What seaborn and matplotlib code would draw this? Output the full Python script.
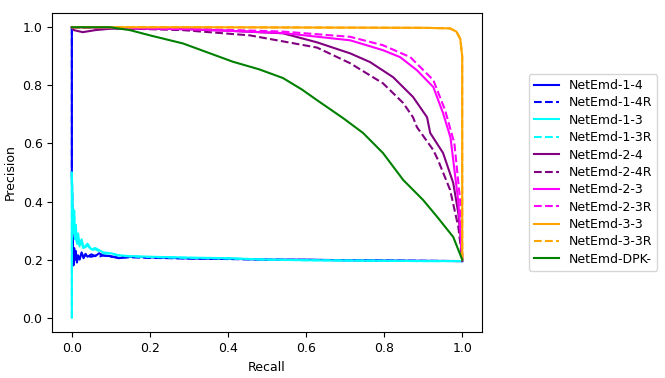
import pandas as pd
import matplotlib
matplotlib.use('Agg')
import matplotlib.pyplot as plt
import seaborn as sns

# NetEmd-1-4 / 1-4R (blue)
recall_14 = [0, 0, 0.002, 0.004, 0.006, 0.008, 0.01, 0.013, 0.016, 0.02, 0.025, 0.03, 0.035,
             0.04, 0.05, 0.06, 0.07, 0.08, 0.1, 0.12, 0.15, 0.2, 0.3, 0.4, 0.5, 0.6, 0.7, 0.8, 0.9, 1.0]
prec_14 = [1.0, 0.5, 0.28, 0.18, 0.24, 0.2, 0.23, 0.19, 0.215, 0.2, 0.225, 0.205, 0.22,
           0.21, 0.218, 0.212, 0.222, 0.214, 0.212, 0.205, 0.21, 0.208, 0.204, 0.203, 0.2, 0.2, 0.198, 0.197, 0.196, 0.195]
prec_14r = [1.0, 0.5, 0.27, 0.19, 0.23, 0.2, 0.22, 0.2, 0.21, 0.205, 0.22, 0.21, 0.215,
            0.212, 0.21, 0.214, 0.21, 0.215, 0.21, 0.207, 0.208, 0.206, 0.204, 0.202, 0.2, 0.199, 0.198, 0.197, 0.196, 0.195]

# NetEmd-1-3 / 1-3R (cyan)
recall_13 = [0, 0, 0.002, 0.004, 0.006, 0.008, 0.01, 0.013, 0.016, 0.02, 0.025, 0.03, 0.04,
             0.05, 0.06, 0.08, 0.1, 0.12, 0.15, 0.2, 0.3, 0.4, 0.5, 0.6, 0.7, 0.8, 0.9, 1.0]
prec_13 = [0.0, 0.5, 0.36, 0.3, 0.37, 0.27, 0.32, 0.26, 0.29, 0.25, 0.27, 0.24, 0.255,
           0.235, 0.24, 0.225, 0.222, 0.215, 0.212, 0.21, 0.207, 0.205, 0.2, 0.198, 0.197, 0.196, 0.195, 0.195]
prec_13r = [0.0, 0.5, 0.34, 0.29, 0.35, 0.28, 0.3, 0.25, 0.28, 0.245, 0.26, 0.235, 0.25,
            0.232, 0.236, 0.222, 0.22, 0.214, 0.211, 0.209, 0.206, 0.204, 0.2, 0.198, 0.197, 0.196, 0.195, 0.195]

# NetEmd-2-4 (purple solid)
recall_24 = [0, 0.005, 0.028, 0.06, 0.1, 0.2, 0.3, 0.4, 0.541, 0.628, 0.713, 0.764, 0.823,
             0.874, 0.91, 0.918, 0.951, 0.977, 0.99, 1.0, 1.0]
prec_24 = [1.0, 0.99, 0.983, 0.99, 0.995, 0.995, 0.993, 0.988, 0.979, 0.948, 0.91, 0.88, 0.828,
           0.76, 0.69, 0.636, 0.567, 0.464, 0.36, 0.22, 0.195]

# NetEmd-2-4R (purple dashed)
recall_24r = [0, 0.05, 0.15, 0.285, 0.456, 0.628, 0.713, 0.797, 0.849, 0.874, 0.884, 0.926,
              0.938, 0.969, 0.99, 1.0]
prec_24r = [1.0, 0.998, 0.995, 0.99, 0.972, 0.93, 0.876, 0.807, 0.739, 0.69, 0.656, 0.577,
            0.543, 0.44, 0.313, 0.2]

# NetEmd-2-3 (magenta solid)
recall_23 = [0, 0.1, 0.3, 0.541, 0.713, 0.797, 0.841, 0.884, 0.926, 0.951, 0.97, 0.99, 1.0]
prec_23 = [1.0, 0.998, 0.993, 0.98, 0.955, 0.921, 0.897, 0.852, 0.794, 0.704, 0.62, 0.4, 0.2]

# NetEmd-2-3R (magenta dashed)
recall_23r = [0, 0.1, 0.3, 0.541, 0.713, 0.797, 0.867, 0.926, 0.956, 0.98, 0.995, 1.0]
prec_23r = [1.0, 0.998, 0.995, 0.985, 0.967, 0.938, 0.897, 0.818, 0.715, 0.6, 0.4, 0.2]

# NetEmd-3-3 / 3-3R (orange)
recall_33 = [0, 0.3, 0.6, 0.9, 0.969, 0.985, 0.995, 1.0, 1.0]
prec_33 = [1.0, 1.0, 0.999, 0.998, 0.996, 0.985, 0.96, 0.9, 0.2]

# NetEmd-DPK- (green)
recall_dpk = [0, 0.097, 0.149, 0.2, 0.285, 0.35, 0.413, 0.48, 0.541, 0.59, 0.628, 0.695,
              0.746, 0.797, 0.849, 0.9, 0.936, 0.977, 1.0]
prec_dpk = [1.0, 1.0, 0.99, 0.972, 0.944, 0.912, 0.881, 0.855, 0.825, 0.785, 0.749, 0.687,
            0.636, 0.567, 0.474, 0.405, 0.347, 0.278, 0.2]

curves = [
    ('NetEmd-1-4', recall_14, prec_14, 'blue', '-'),
    ('NetEmd-1-4R', recall_14, prec_14r, 'blue', '--'),
    ('NetEmd-1-3', recall_13, prec_13, 'cyan', '-'),
    ('NetEmd-1-3R', recall_13, prec_13r, 'cyan', '--'),
    ('NetEmd-2-4', recall_24, prec_24, 'purple', '-'),
    ('NetEmd-2-4R', recall_24r, prec_24r, 'purple', '--'),
    ('NetEmd-2-3', recall_23, prec_23, 'magenta', '-'),
    ('NetEmd-2-3R', recall_23r, prec_23r, 'magenta', '--'),
    ('NetEmd-3-3', recall_33, prec_33, 'orange', '-'),
    ('NetEmd-3-3R', recall_33, prec_33, 'orange', '--'),
    ('NetEmd-DPK-', recall_dpk, prec_dpk, 'green', '-'),
]

plt.rcParams['font.size'] = 9

fig = plt.figure(figsize=(6.65, 3.78), dpi=100)
ax = fig.add_axes([0.0787, 0.121, 0.6457, 0.8454])

for name, r, p, color, ls in curves:
    df = pd.DataFrame({'Recall': r, 'Precision': p})
    sns.lineplot(data=df, x='Recall', y='Precision', color=color, linestyle=ls,
                 label=name, sort=False, estimator=None, linewidth=1.5, ax=ax)

ax.set_xticks([0.0, 0.2, 0.4, 0.6, 0.8, 1.0])
ax.set_yticks([0.0, 0.2, 0.4, 0.6, 0.8, 1.0])
ax.set_xlim(-0.05, 1.05)
ax.set_ylim(-0.05, 1.05)
ax.set_xlabel('Recall')
ax.set_ylabel('Precision')
ax.legend(loc='center left', bbox_to_anchor=(1.095, 0.5), labelspacing=0.35)

fig.savefig('out.png', dpi=100)
